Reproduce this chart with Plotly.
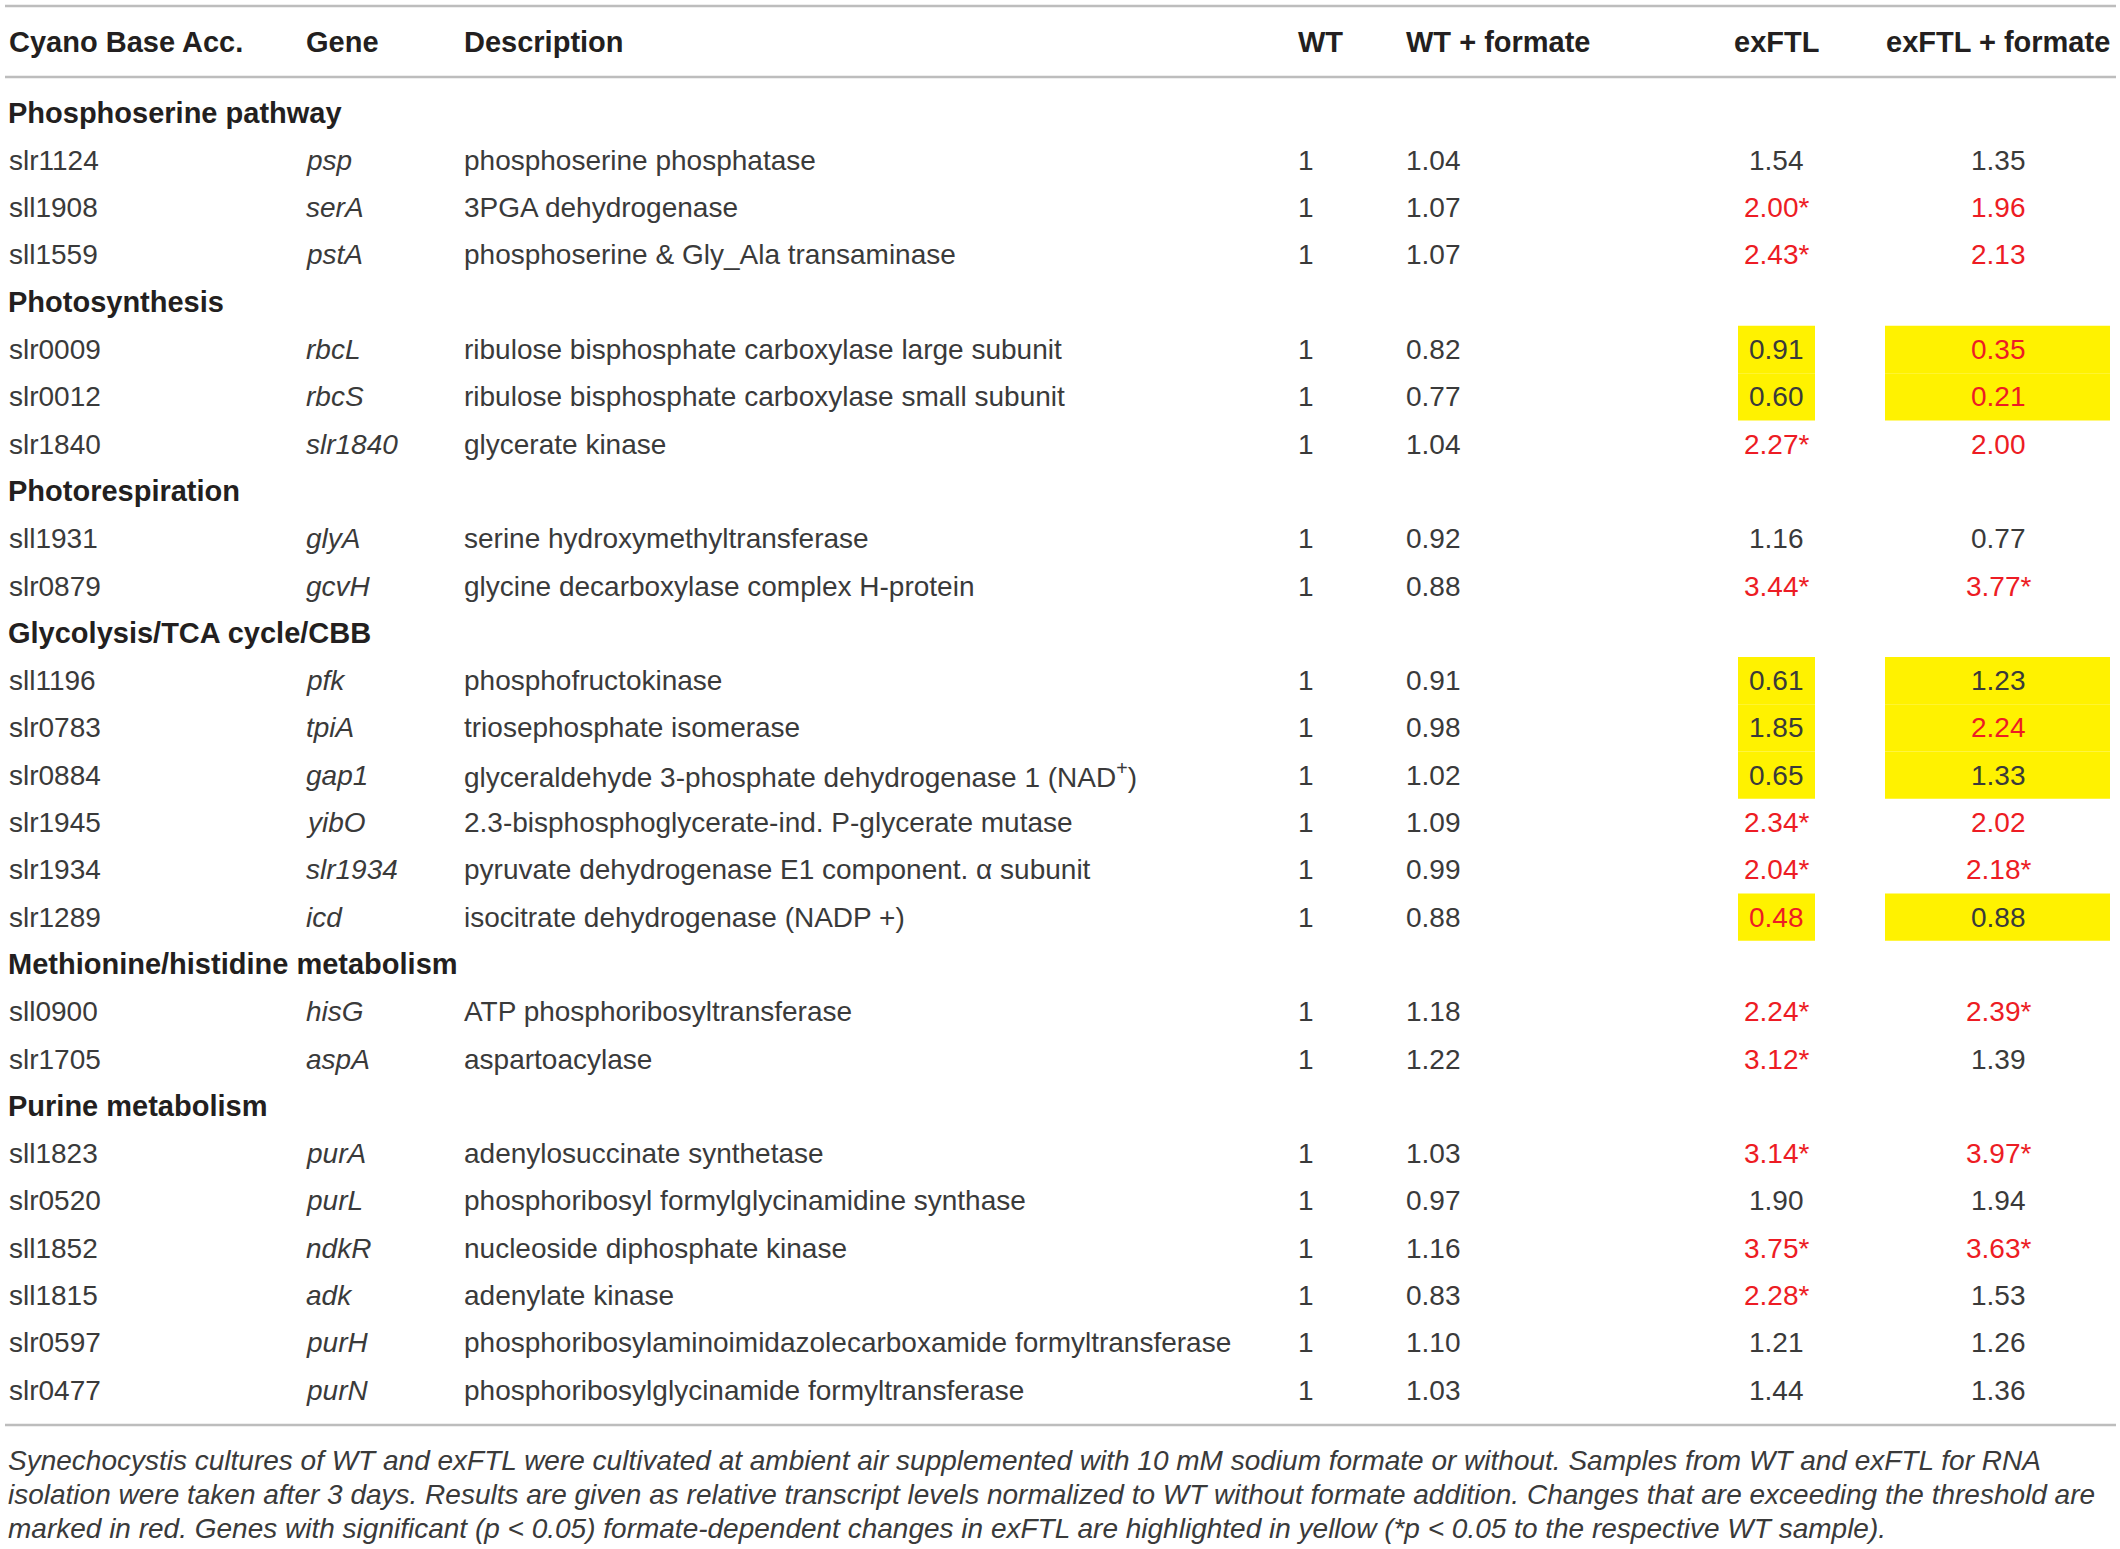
import plotly.graph_objects as go

W, H = 2120, 1549

headers = ["Cyano Base Acc.", "Gene", "Description", "WT", "WT + formate", "exFTL", "exFTL + formate"]

groups = ["Phosphoserine pathway", "Photosynthesis", "Photorespiration",
          "Glycolysis/TCA cycle/CBB", "Methionine/histidine metabolism", "Purine metabolism"]
group_sizes = [3, 3, 2, 6, 2, 6]

acc = ["slr1124", "sll1908", "sll1559",
       "slr0009", "slr0012", "slr1840",
       "sll1931", "slr0879",
       "sll1196", "slr0783", "slr0884", "slr1945", "slr1934", "slr1289",
       "sll0900", "slr1705",
       "sll1823", "slr0520", "sll1852", "sll1815", "slr0597", "slr0477"]
gene = ["psp", "serA", "pstA",
        "rbcL", "rbcS", "slr1840",
        "glyA", "gcvH",
        "pfk", "tpiA", "gap1", "yibO", "slr1934", "icd",
        "hisG", "aspA",
        "purA", "purL", "ndkR", "adk", "purH", "purN"]
desc = ["phosphoserine phosphatase", "3PGA dehydrogenase", "phosphoserine &amp; Gly_Ala transaminase",
        "ribulose bisphosphate carboxylase large subunit", "ribulose bisphosphate carboxylase small subunit",
        "glycerate kinase",
        "serine hydroxymethyltransferase", "glycine decarboxylase complex H-protein",
        "phosphofructokinase", "triosephosphate isomerase",
        "glyceraldehyde 3-phosphate dehydrogenase 1 (NAD<sup>+</sup>)",
        "2.3-bisphosphoglycerate-ind. P-glycerate mutase",
        "pyruvate dehydrogenase E1 component. α subunit", "isocitrate dehydrogenase (NADP +)",
        "ATP phosphoribosyltransferase", "aspartoacylase",
        "adenylosuccinate synthetase", "phosphoribosyl formylglycinamidine synthase",
        "nucleoside diphosphate kinase", "adenylate kinase",
        "phosphoribosylaminoimidazolecarboxamide formyltransferase",
        "phosphoribosylglycinamide formyltransferase"]

wt = [1, 1, 1, 1, 1, 1, 1, 1, 1, 1, 1, 1, 1, 1, 1, 1, 1, 1, 1, 1, 1, 1]
wt_formate = [1.04, 1.07, 1.07, 0.82, 0.77, 1.04, 0.92, 0.88, 0.91, 0.98, 1.02,
              1.09, 0.99, 0.88, 1.18, 1.22, 1.03, 0.97, 1.16, 0.83, 1.10, 1.03]
exftl = [1.54, 2.00, 2.43, 0.91, 0.60, 2.27, 1.16, 3.44, 0.61, 1.85, 0.65,
         2.34, 2.04, 0.48, 2.24, 3.12, 3.14, 1.90, 3.75, 2.28, 1.21, 1.44]
exftl_formate = [1.35, 1.96, 2.13, 0.35, 0.21, 2.00, 0.77, 3.77, 1.23, 2.24, 1.33,
                 2.02, 2.18, 0.88, 2.39, 1.39, 3.97, 1.94, 3.63, 1.53, 1.26, 1.36]

# 1 = exceeds threshold (red), 2 = red and *p < 0.05 vs WT
exftl_mark = [0, 2, 2, 0, 0, 2, 0, 2, 0, 0, 0, 2, 2, 1, 2, 2, 2, 0, 2, 2, 0, 0]
exftl_formate_mark = [0, 1, 1, 1, 1, 1, 0, 2, 0, 1, 0, 1, 2, 0, 2, 0, 2, 0, 2, 0, 0, 0]
# formate-dependent significant change (yellow)
highlight = [0, 0, 0, 1, 1, 0, 0, 0, 1, 1, 1, 0, 0, 1, 0, 0, 0, 0, 0, 0, 0, 0]

footnote = [
    "Synechocystis cultures of WT and exFTL were cultivated at ambient air supplemented with 10 mM sodium "
    "formate or without. Samples from WT and exFTL for RNA",
    "isolation were taken after 3 days. Results are given as relative transcript levels normalized to WT "
    "without formate addition. Changes that are exceeding the threshold are",
    "marked in red. Genes with significant (p &lt; 0.05) formate-dependent changes in exFTL are highlighted "
    "in yellow (*p &lt; 0.05 to the respective WT sample).",
]

TEXT = "#231f20"
BODY = "#3a3a3a"
RED = "#ed1c24"
YELLOW = "#fff200"
RULE = "#bdbdbd"
FONT = "Liberation Sans"

header_y = 42
row0_y = 113
pitch = 47.3
col_x = [7, 304, 462, 1296, 1404, 1776, 1998]
col_anchor = ["left", "left", "left", "left", "left", "center", "center"]
box_x = [(1738, 1815), (1885, 2110)]

fig = go.Figure()
ann = []
shapes = []


def add_text(x, y, text, anchor="left", size=28, color=BODY):
    ann.append(dict(x=x, y=y, xref="x", yref="y", text=text, showarrow=False,
                    xanchor=anchor, yanchor="middle",
                    font=dict(family=FONT, size=size, color=color)))


for j, h in enumerate(headers):
    add_text(col_x[j], header_y, "<b>" + h + "</b>", col_anchor[j], size=29, color=TEXT)

line = 0
k = 0
for g, n in zip(groups, group_sizes):
    add_text(col_x[0] - 1, row0_y + pitch * line, "<b>" + g + "</b>", size=29, color=TEXT)
    line += 1
    for _ in range(n):
        y = row0_y + pitch * line
        if highlight[k]:
            for x0, x1 in box_x:
                shapes.append(dict(type="rect", xref="x", yref="y", x0=x0, x1=x1,
                                   y0=y - pitch / 2, y1=y + pitch / 2,
                                   fillcolor=YELLOW, line=dict(width=0), layer="below"))
        add_text(col_x[0], y, acc[k])
        add_text(col_x[1], y, "<i>" + gene[k] + "</i>")
        add_text(col_x[2], y, desc[k])
        add_text(col_x[3], y, str(wt[k]))
        add_text(col_x[4], y, f"{wt_formate[k]:.2f}")
        for val, mark, cx in ((exftl[k], exftl_mark[k], col_x[5]),
                              (exftl_formate[k], exftl_formate_mark[k], col_x[6])):
            s = f"{val:.2f}" + ("*" if mark == 2 else "")
            add_text(cx, y, s, "center", color=RED if mark else BODY)
        line += 1
        k += 1

for ry in (6, 77, 1425):
    shapes.append(dict(type="line", xref="x", yref="y", x0=5, x1=2116, y0=ry, y1=ry,
                       line=dict(color=RULE, width=2.5)))

for i, t in enumerate(footnote):
    add_text(6, 1460 + 34 * i, "<i>" + t + "</i>", size=28)

fig.update_layout(
    width=W, height=H,
    margin=dict(l=0, r=0, t=0, b=0),
    paper_bgcolor="white", plot_bgcolor="white",
    xaxis=dict(range=[0, W], visible=False, fixedrange=True),
    yaxis=dict(range=[H, 0], visible=False, fixedrange=True),
    annotations=ann, shapes=shapes, showlegend=False,
)

# drop the default page margin so the figure sits at the window origin
fig.write_html("out.html", config={"displayModeBar": False},
               post_script="document.body.style.margin = '0';")
